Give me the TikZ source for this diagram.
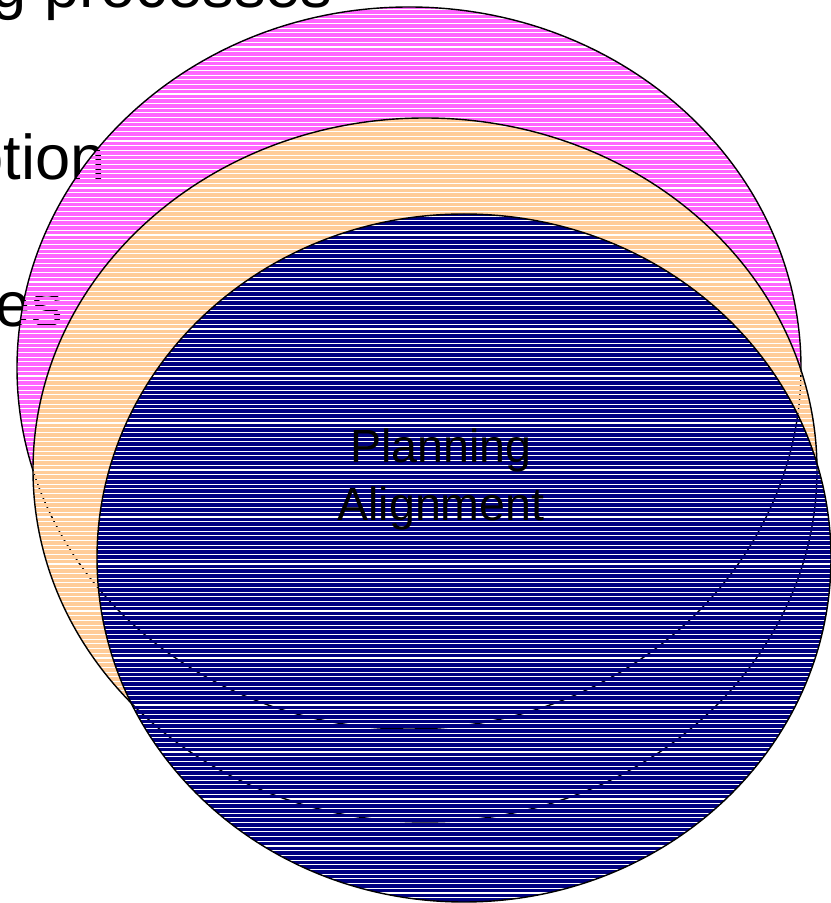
\documentclass[tikz,border=0pt]{standalone}
\usepackage{fontspec}
\setmainfont{Liberation Sans}
\usepackage{tikz}
\definecolor{pinkish}{HTML}{FF66FF}
\definecolor{peach}{HTML}{FFCC99}
\definecolor{deepnavy}{HTML}{000080}

\begin{document}
\begin{tikzpicture}[
  x=0.02cm, y=0.02cm,
  rim/.style={draw=black,line width=0.8pt},
  bullet/.style={anchor=base east,inner sep=0pt,font=\fontsize{36}{43}\selectfont},
  label/.style={align=center,inner sep=0pt,font=\fontsize{26.5}{33}\selectfont}
]
\useasboundingbox (0,0) rectangle (831,903);
\clip (0,0) rectangle (831,903);
\node[bullet] (p1) at (333,895) {g processes};
\node[bullet] (p2) at (106,723) {otion};
\node[bullet] (p3) at (63,576) {es};
% striped discs, back to front
\foreach \cx/\cy/\rx/\ry/\col in {409/535/392/361/pinkish,425/433/392/352/peach,464/345/367/344/deepnavy}{
  \begin{scope}
    \clip (\cx,\cy) ellipse [x radius=\rx, y radius=\ry];
    \foreach \k in {0,...,192}
      \fill[\col] (\cx-\rx,\k*4.7+1.1) rectangle (\cx+\rx,\k*4.7+4.7);
  \end{scope}
  \draw[rim] (\cx,\cy) ellipse [x radius=\rx, y radius=\ry];
}
\node[label] (pa) at (441,424) {Planning\\Alignment};
\end{tikzpicture}
\end{document}
